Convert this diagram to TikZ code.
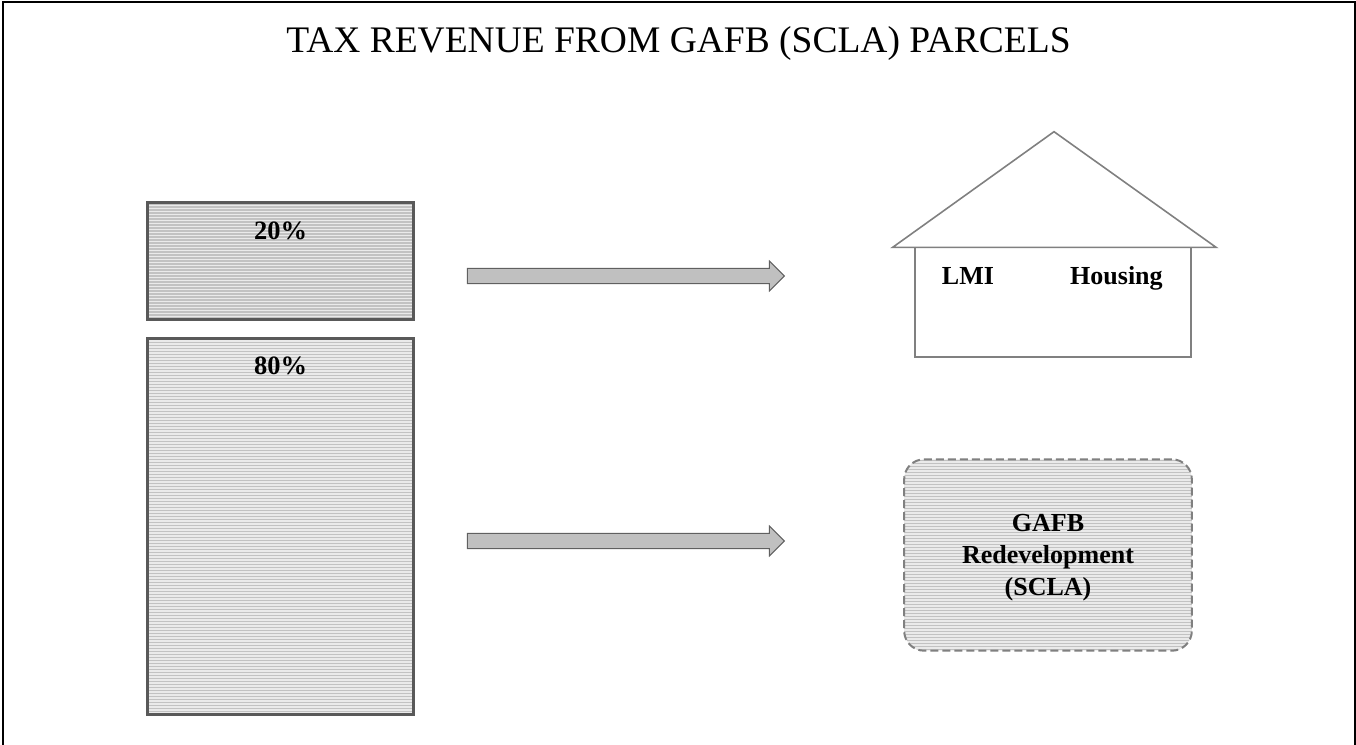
\documentclass[tikz,border=0pt]{standalone}
\usepackage{fontspec}
\setmainfont{Liberation Serif}
\usetikzlibrary{calc}
\definecolor{boxedge}{HTML}{595959}
\definecolor{stripeA}{HTML}{EAEAEA}
\definecolor{stripeB}{HTML}{C2C2C2}
\definecolor{arrowfill}{HTML}{C0C0C0}
\definecolor{arrowedge}{HTML}{606060}
\definecolor{houseline}{HTML}{808080}
\tikzset{
  striped/.style={fill=stripeA,
    path picture={\foreach \k in {0,...,135}{
      \draw[stripeB,solid,line width=1.3pt]
        ($(path picture bounding box.north west)+(0,3*\k+1.5)$) --
        ($(path picture bounding box.north east)+(0,3*\k+1.5)$);}}},
  sharebox/.style={striped, draw=boxedge, line width=3pt, inner sep=0pt},
  pct/.style={font=\bfseries\fontsize{26.5}{31}\selectfont, anchor=base, inner sep=0pt},
  lbl/.style={font=\bfseries\fontsize{26}{31.6}\selectfont, inner sep=0pt},
  fatarrow/.style={fill=arrowfill, draw=arrowedge, line width=1pt, line join=miter},
  houseedge/.style={draw=houseline, line width=1.6pt, line join=miter},
  projbox/.style={striped, draw=houseline, line width=2pt, dash pattern=on 8pt off 4pt,
    rounded corners=20pt, inner sep=0pt},
  frameline/.style={draw=black, line width=2pt}
}
\begin{document}
\begin{tikzpicture}[x=1pt,y=-1pt]
\useasboundingbox (0,0) rectangle (1356,744);
% frame
\coordinate (fbl) at (2.5,750);
\coordinate (ftl) at (2.5,1.5);
\coordinate (ftr) at (1355,1.5);
\coordinate (fbr) at (1355,750);
\draw[frameline] (fbl) -- (ftl) -- (ftr) -- (fbr);
% title
\node[font=\fontsize{37.5}{44}\selectfont, anchor=base, inner sep=0pt] (title) at (678.5,52.3)
  {TAX REVENUE FROM GAFB (SCLA) PARCELS};
% share boxes
\node[sharebox, minimum width=265.8pt, minimum height=116.5pt] (p20) at (280.6,260.75) {};
\node[pct] (p20t) at (280.6,239) {20\%};
\node[sharebox, minimum width=265.8pt, minimum height=376pt] (p80) at (280.6,526) {};
\node[pct] (p80t) at (280.6,374) {80\%};
% arrows
\coordinate (a1s) at (467.3,276);
\coordinate (a1e) at (784.3,276);
\coordinate (a2s) at (467.3,541);
\coordinate (a2e) at (784.3,541);
\foreach \s/\e in {a1s/a1e,a2s/a2e}{
  \draw[fatarrow] ($(\s)+(0,-7.7)$) -- ($(\e)+(-15,-7.7)$) -- ($(\e)+(-15,-15)$) --
    (\e) -- ($(\e)+(-15,15)$) -- ($(\e)+(-15,7.7)$) -- ($(\s)+(0,7.7)$) -- cycle;
}
% house
\coordinate (rl) at (892.7,247.3);
\coordinate (rt) at (1054,131.7);
\coordinate (rr) at (1216,247.3);
\coordinate (btl) at (914.7,247.3);
\coordinate (bbr) at (1190.7,356.7);
\draw[houseedge] (btl) rectangle (bbr);
\draw[houseedge] (rl) -- (rt) -- (rr) -- cycle;
\node[lbl, anchor=base west] (lmi) at (941.7,284) {LMI};
\node[lbl, anchor=base west] (hsg) at (1070,284) {Housing};
% project box
\node[projbox, minimum width=287.7pt, minimum height=191.4pt] (proj) at (1048,555) {};
\node[lbl, align=center, anchor=base] (projt) at (1048,595) {GAFB\\Redevelopment\\(SCLA)};
\end{tikzpicture}
\end{document}
